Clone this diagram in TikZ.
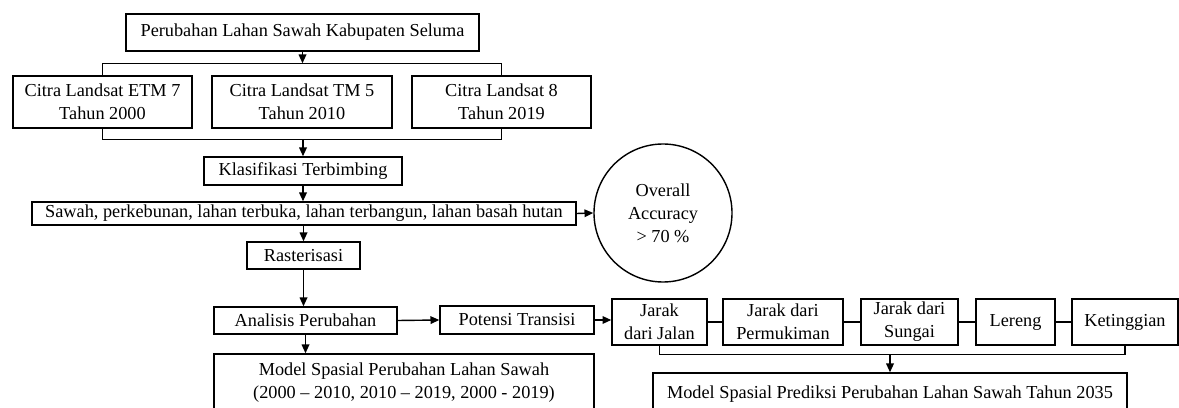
\documentclass[tikz,border=0pt]{standalone}
\usepackage{fontspec}
\setmainfont{Liberation Serif}
\usetikzlibrary{shapes,arrows.meta,positioning}

\begin{document}
\begin{tikzpicture}[
    font=\fontsize{13}{16.4}\selectfont,
    proc/.style={draw, line width=1pt, inner sep=0pt, align=center},
    acc/.style={draw, circle, line width=1pt, minimum size=3.45cm, inner sep=0pt, align=center},
    arr/.style={-{Triangle[length=2.2mm,width=1.9mm]}, line width=1pt},
    link/.style={line width=1pt}
]
    \useasboundingbox (0,0) rectangle (29.475,-10.2);

    % === INPUT DATA ===
    \node[proc, minimum width=8.825cm, minimum height=0.925cm] (lahan) at (7.5625,-0.8125) {Perubahan Lahan Sawah Kabupaten Seluma};
    \node[proc, minimum width=4.475cm, minimum height=1.3cm] (etm) at (2.5625,-2.55) {Citra Landsat ETM 7\\Tahun 2000};
    \node[proc, minimum width=4.5cm, minimum height=1.3cm] (tm) at (7.55,-2.55) {Citra Landsat TM 5\\Tahun 2010};
    \node[proc, minimum width=4.475cm, minimum height=1.3cm] (oli) at (12.5375,-2.55) {Citra Landsat 8\\Tahun 2019};

    % === CLASSIFICATION ===
    \node[proc, minimum width=4.95cm, minimum height=0.7cm] (klas) at (7.575,-4.275) {Klasifikasi Terbimbing};
    \node[proc, minimum width=13.6cm, minimum height=0.575cm] (kelas) at (7.6,-5.3375) {Sawah, perkebunan, lahan terbuka, lahan terbangun, lahan basah hutan};
    \node[acc] (akurasi) at (16.575,-5.325) {Overall\\Accuracy\\> 70 \%};
    \node[proc, minimum width=2.825cm, minimum height=0.675cm] (raster) at (7.5875,-6.3875) {Rasterisasi};

    % === CHANGE ANALYSIS ===
    \node[proc, minimum width=4.575cm, minimum height=0.675cm] (analisis) at (7.6375,-8.0125) {Analisis Perubahan};
    \node[proc, minimum width=3.85cm, minimum height=0.7cm] (potensi) at (12.925,-8.0) {Potensi Transisi};
    \node[proc, minimum width=9.5cm, minimum height=1.45cm] (model) at (10.1,-9.575) {Model Spasial Perubahan Lahan Sawah\\(2000 -- 2010, 2010 -- 2019, 2000 - 2019)};

    % === DRIVING FACTORS ===
    \node[proc, minimum width=2.375cm, minimum height=1.15cm] (jalan) at (16.4875,-8.05) {Jarak\\dari Jalan};
    \node[proc, minimum width=3.0cm, minimum height=1.15cm] (mukim) at (19.575,-8.05) {Jarak dari\\Permukiman};
    \node[proc, minimum width=2.425cm, minimum height=1.15cm] (sungai) at (22.7375,-8.05) {Jarak dari\\Sungai};
    \node[proc, minimum width=1.975cm, minimum height=1.15cm] (lereng) at (25.3875,-8.05) {Lereng};
    \node[proc, minimum width=2.65cm, minimum height=1.15cm] (tinggi) at (28.125,-8.05) {Ketinggian};
    \node[proc, minimum width=11.85cm, minimum height=1.05cm] (prediksi) at (22.25,-9.85) {Model Spasial Prediksi Perubahan Lahan Sawah Tahun 2035};

    % === FLOW ===
    \path (etm.north) ++(0,0.3) coordinate (atas);
    \draw[link] (etm.north) -- (atas) -| (oli.north);
    \draw[arr] (lahan.south) -- (lahan.south |- atas);
    \path (etm.south) ++(0,-0.275) coordinate (bawah);
    \draw[link] (etm.south) -- (bawah) -| (oli.south);
    \draw[arr] (klas.north |- bawah) -- (klas.north);
    \draw[arr] (klas.south) -- (klas.south |- kelas.north);
    \draw[arr] (kelas.east) -- (akurasi.west);
    \draw[arr] (raster.north |- kelas.south) -- (raster.north);
    \draw[arr] (raster.south) -- (raster.south |- analisis.north);
    \draw[arr] (analisis.south) -- (analisis.south |- model.north);
    \draw[arr] (analisis.east) -- (potensi.west);
    \draw[arr] (potensi.east) -- (potensi.east -| jalan.west);

    % Factor chain
    \draw[link] (jalan) -- (mukim) -- (sungai) -- (lereng) -- (tinggi);
    \path (jalan.south) ++(0,-0.225) coordinate (faktor);
    \draw[link] (jalan.south) -- (faktor) -| (tinggi.south);
    \draw[arr] (prediksi.north |- faktor) -- (prediksi.north);

\end{tikzpicture}
\end{document}
